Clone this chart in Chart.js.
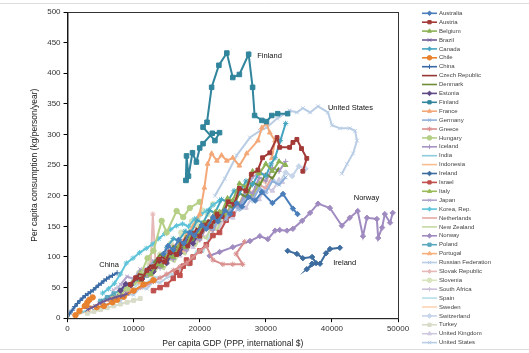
<!DOCTYPE html>
<html>
<head>
<meta charset="utf-8">
<script src="https://cdn.jsdelivr.net/npm/chart.js@4/dist/chart.umd.min.js"></script>
<style>
  html, body { margin: 0; padding: 0; background: #fff; }
  #wrap { width: 529px; height: 353px; }
</style>
</head>
<body>
<div id="wrap"><canvas id="c" width="529" height="353"></canvas></div>
<script>
// [GDP per capita (PPP, int. $), consumption (kg/person/year)]
const countries = ['Australia', 'Austria', 'Belgium', 'Brazil', 'Canada', 'Chile', 'China',
  'Czech Republic', 'Denmark', 'Estonia', 'Finland', 'France', 'Germany', 'Greece', 'Hungary',
  'Iceland', 'India', 'Indonesia', 'Ireland', 'Israel', 'Italy', 'Japan', 'Korea, Rep.',
  'Netherlands', 'New Zealand', 'Norway', 'Poland', 'Portugal', 'Russian Federation',
  'Slovak Republic', 'Slovenia', 'South Africa', 'Spain', 'Sweden', 'Switzerland', 'Turkey',
  'United Kingdom', 'United States'];

const australia = [[14500,105],[15200,118],[16000,112],[16800,128],[17600,122],[18500,140],[19200,135],[20300,152],[21000,146],[22000,165],[22800,158],[23800,176],[24600,170],[25600,188],[26400,182],[27400,198],[28400,192],[29400,206],[31000,188],[32600,203],[34100,179],[34800,170]];
const austria = [[9500,55],[10300,66],[11200,64],[12000,78],[13000,84],[13800,96],[14700,92],[15500,108],[16500,104],[17300,122],[18200,118],[19000,138],[20000,134],[20800,152],[21700,150],[22600,170],[23400,166],[24300,190],[25200,186],[26000,212],[27000,208],[27800,235],[28800,242],[29500,262],[30600,270],[31700,295],[32100,279],[33600,279],[34100,287],[34700,292],[35400,277],[36200,261],[35600,240]];
const belgium = [[11000,62],[11800,74],[12600,72],[13500,88],[14300,86],[15200,102],[16000,100],[17000,120],[17800,116],[18800,138],[19600,134],[20600,156],[21400,152],[22400,174],[23200,170],[24200,196],[25000,192],[26000,220],[27000,214],[28000,240],[29000,236],[30000,252],[31000,240],[32000,256],[33000,250]];
const brazil = [[3000,14],[3600,17],[4200,20],[4800,24],[5400,27],[6000,30],[6600,32],[7200,34],[7800,36],[8400,37],[9000,40]];
const canada = [[15000,115],[16000,130],[16800,126],[17800,142],[18600,138],[19600,160],[20500,156],[21500,176],[22300,172],[23300,194],[24200,190],[25200,208],[26000,204],[27000,224],[28000,218],[29000,238],[30000,232],[30800,252],[31400,262],[32200,290],[33000,318]];
const chile = [[1200,5],[1800,12],[2600,20],[3300,30],[3800,34],[3000,26],[2800,20],[4400,18],[5500,20],[6800,26],[7500,30],[8500,35],[10000,45],[11500,55],[13000,62]];
const china = [[300,7],[700,13],[1100,19],[1500,24],[1900,29],[2300,33],[2700,37],[3100,40],[3500,43],[3900,46],[4300,50],[4700,54],[5100,57],[5500,61],[5900,64],[6300,67],[6800,70],[7500,74]];
const czech = [[10000,60],[10800,72],[11600,70],[12500,86],[13400,82],[14200,100],[15000,96],[16000,114],[16800,110],[17800,130],[18600,126],[19500,146],[20400,140],[21300,160],[22200,156],[23000,170]];
const denmark = [[13000,90],[14000,104],[15000,100],[16000,118],[17000,114],[18000,134],[19000,128],[20000,150],[21000,146],[22000,168],[23000,162],[24000,186],[25000,180],[26000,204],[27000,198],[28000,222],[29000,216],[30000,236],[31000,228],[32000,246]];
const estonia = [[8000,45],[8800,56],[9600,54],[10500,66],[11300,64],[12200,80],[13000,76],[14000,94],[15000,90],[16000,110],[17000,106],[18000,126],[19000,122],[20000,142],[21000,150]];
const finland = [[17900,225],[18000,265],[18300,232],[18900,270],[19500,255],[20000,278],[20500,285],[21900,302],[23000,303],[22300,290],[20500,312],[21100,320],[21800,377],[22900,413],[24100,433],[25000,393],[26000,398],[27400,431],[28000,377],[28300,331],[29400,323],[30100,321],[30900,331],[31800,334],[33300,334]];
const france = [[12000,75],[13000,82],[14000,90],[15000,100],[16000,110],[17000,120],[18000,135],[19000,150],[20000,170],[20700,213],[21200,252],[21800,269],[22600,257],[23300,266],[24100,257],[25000,262],[26000,249],[27100,269],[28800,290],[29400,311],[30100,318],[30600,303],[31400,290],[30900,261]];
const germany = [[12000,80],[13000,92],[14000,88],[15000,106],[16000,102],[17000,120],[18000,116],[19000,136],[20000,130],[21000,152],[22000,146],[23000,168],[24000,162],[25000,184],[26000,178],[27000,200],[28000,194],[29000,212],[30000,206],[31000,224],[32000,218],[33000,230]];
const greece = [[9000,40],[10000,45],[11000,50],[12000,55],[13000,60],[14000,66],[15000,72],[16000,78],[17000,84],[18000,90],[19000,100],[20000,110],[21000,118],[22000,95],[23500,88],[25000,88],[26500,88],[25500,105],[26800,125]];
const hungary = [[7000,32],[8000,40],[9000,48],[10000,58],[11000,70],[12100,98],[13000,110],[14240,159],[15000,140],[16500,175],[17500,165],[18500,180],[20000,190]];
const iceland = [[12000,70],[13000,86],[14000,82],[15000,100],[16000,96],[17000,116],[18000,110],[19000,132],[20000,128],[21000,150],[22000,144],[23000,168],[24000,162],[25000,188],[26000,182],[27000,210],[28000,204],[29000,230],[30000,224],[31000,246],[32000,240],[33000,256]];
const india = [[800,3],[1200,5],[1600,7],[2000,9],[2500,11],[3000,13]];
const indonesia = [[1000,3],[1500,6],[2000,8],[2500,10],[3000,12],[3500,13]];
const ireland = [[33300,110],[34700,105],[35600,98],[37000,100],[37600,90],[36200,80],[37000,89],[38200,89],[39100,106],[39700,113],[41200,115]];
const israel = [[13000,45],[14000,50],[15000,55],[16000,65],[16500,75],[17000,70],[17500,85],[18000,95],[18500,90],[19000,100],[20000,110],[21000,120],[22000,135],[23000,140],[24000,160],[25000,170]];
const italy = [[10000,60],[11000,74],[12000,70],[13000,88],[14000,84],[15000,104],[16000,98],[17000,120],[18000,114],[19000,138],[20000,132],[21000,156],[22000,150],[23000,174],[24000,168],[25000,192],[26000,186],[27000,208],[28000,202],[29000,220]];
const japan = [[8000,55],[9000,68],[10000,64],[11000,80],[12000,76],[13000,94],[14000,90],[15000,110],[16000,104],[17000,126],[18000,120],[19000,142],[20000,136],[21000,158],[22000,152],[23000,174],[24000,168],[25000,190],[26000,184],[27000,208],[28000,230],[29000,238],[30500,232]];
const korea = [[5300,41],[6200,48],[7100,57],[8000,72],[8900,90],[9900,98],[10900,107],[11900,114],[12900,121],[13800,130],[14700,138],[15600,145],[16500,151],[17400,154],[18300,150],[19200,162],[20200,170],[21000,175],[22000,185],[23000,192]];
const netherlands = [[12000,72],[13000,88],[14000,84],[15000,102],[16000,96],[17000,116],[18000,110],[19000,132],[20000,126],[21000,148],[22000,142],[23000,166],[24000,160],[25000,184],[26000,178],[27000,202],[28000,196],[29000,218],[30000,212],[31000,232]];
const newZealand = [[13000,72],[13800,84],[14600,80],[15400,96],[16200,92],[17000,108],[17800,104],[18600,122],[19400,118],[20200,136],[21000,130],[21800,150],[22600,144],[23400,164],[24000,160]];
const norway = [[21500,102],[23000,108],[25000,116],[27600,126],[29100,134],[30300,129],[31400,143],[32100,144],[33200,143],[34100,146],[35500,159],[36700,172],[37900,187],[39700,180],[41500,151],[42700,164],[43900,175],[44700,134],[45300,164],[46800,162],[47000,131],[47600,148],[48000,170],[48800,156],[49200,172]];
const poland = [[5000,28],[6000,34],[7000,40],[8000,46],[9000,52],[10000,58],[11000,64],[12000,70],[13000,78],[14000,86]];
const portugal = [[6000,30],[7000,38],[7800,36],[8600,48],[9400,46],[10200,60],[11000,58],[11800,74],[12600,70],[13400,88],[14200,84],[15000,102],[15800,98],[16600,114],[17400,110],[18000,120]];
const russia = [[6000,22],[7000,30],[8000,28],[9000,40],[10000,38],[11000,50],[12000,48],[13000,60],[14000,58],[15000,66],[16500,72]];
const slovak = [[9000,55],[10000,62],[11000,70],[12000,78],[12600,90],[12900,170],[13300,92],[14000,98],[15000,108],[16000,118],[17000,126],[18000,132]];
const slovenia = [[10000,60],[10800,74],[11600,70],[12400,88],[13200,84],[14000,104],[14800,100],[15600,122],[16400,116],[17200,140],[18000,134],[18800,158],[19600,152],[20400,176],[21200,170],[22000,186]];
const southAfrica = [[6800,45],[7500,50],[8200,55],[9000,53],[9400,48],[8600,44],[7900,42],[8700,46],[9500,50]];
const spain = [[8000,40],[9000,50],[10000,48],[11000,60],[12000,58],[13000,68],[14000,66],[15500,72],[16500,72],[17500,88],[18500,86],[19500,110],[20500,108],[21500,134],[22500,150],[23500,166],[24500,178],[25500,196],[26500,213]];
const sweden = [[14000,98],[15000,112],[16000,106],[17000,126],[18000,120],[19000,142],[20000,136],[21000,158],[22000,152],[23000,176],[24000,170],[25000,194],[26000,188],[27000,212],[28000,206],[29000,226],[30000,220],[30500,232]];
const switzerland = [[20000,140],[21000,156],[22000,150],[23000,170],[24000,164],[25000,184],[26000,178],[27000,198],[28000,192],[29000,212],[30000,206],[31000,226],[32000,220],[33000,238],[34000,232],[35000,248],[36000,244]];
const turkey = [[3000,8],[4000,11],[5000,14],[6000,17],[7000,20],[8000,23],[9000,26],[10000,29],[11000,32]];
const uk = [[13000,80],[14000,94],[15000,90],[16000,108],[17000,102],[18000,122],[19000,116],[20000,138],[21000,132],[22000,154],[23000,148],[24000,170],[25000,164],[26000,186],[27000,180],[28000,200],[29000,194],[30000,214],[31000,208],[32000,226],[32500,222]];
const us = [[22300,200],[23800,228],[25600,266],[27600,295],[29100,306],[30100,311],[31700,326],[33600,339],[34700,336],[35600,343],[36700,336],[37900,346],[39400,336],[40000,315],[41200,310],[42700,310],[43500,306],[43800,290],[43200,269],[42300,252],[41500,236]];

const series = [australia, austria, belgium, brazil, canada, chile, china, czech, denmark, estonia,
  finland, france, germany, greece, hungary, iceland, india, indonesia, ireland, israel, italy,
  japan, korea, netherlands, newZealand, norway, poland, portugal, russia, slovak, slovenia,
  southAfrica, spain, sweden, switzerland, turkey, uk, us];

const xTicks = [0, 10000, 20000, 30000, 40000, 50000];
const yTicks = [0, 50, 100, 150, 200, 250, 300, 350, 400, 450, 500];

// text labels placed next to highlighted countries: [text, x, y]
const callouts = [['Finland', 28700, 429], ['United States', 39400, 344], ['Norway', 43300, 197],
  ['Ireland', 40200, 90], ['China', 4800, 87]];

const colors = ['#4A7EBB', '#A33A37', '#8DB255', '#6F5A96', '#45A5C0', '#E8822E', '#3A6AA5',
  '#943634', '#6E8C38', '#5F4A87', '#31859C', '#F4A878', '#8EB0DA', '#D98F8D', '#B5CF86',
  '#A794C4', '#8DCCDD', '#F8BD8E', '#3D6C9E', '#C0504D', '#9BBB59', '#B0A3CC', '#5EC3D8',
  '#E6A8A0', '#C4D9A0', '#A08BC0', '#5BA9BF', '#F7B07C', '#B8CCE4', '#E6B9B8', '#D7E4BD',
  '#CCC0DA', '#B7DEE8', '#FBD5B5', '#C6D5EA', '#D8DCC8', '#D0C8E0', '#B9CDE5'];
const markers = ['rectRot', 'rect', 'triangle', 'crossRot', 'star', 'circle', 'cross', false, false,
  'rectRot', 'rect', 'triangle', 'crossRot', 'star', 'circle', 'cross', false, false,
  'rectRot', 'rect', 'triangle', 'crossRot', 'star', false, false,
  'rectRot', 'rect', 'triangle', 'crossRot', 'star', 'circle', 'cross', false, false,
  'rectRot', 'rect', 'triangle', 'crossRot'];

const datasets = countries.map((name, i) => ({
  label: name,
  data: series[i].map(p => ({ x: p[0], y: p[1] })),
  showLine: true,
  borderColor: colors[i],
  backgroundColor: colors[i],
  borderWidth: 2,
  pointStyle: markers[i] || 'circle',
  pointRadius: markers[i] ? (i === 10 || i === 19 ? 3.2 : 2.7) : 0,
  pointBorderWidth: 1,
  pointHoverRadius: 0,
  tension: 0
}));

const extras = {
  id: 'extras',
  afterDatasetsDraw(chart) {
    const { ctx, chartArea: a, scales } = chart;
    ctx.save();
    // box round the plot area
    ctx.strokeStyle = '#333';
    ctx.lineWidth = 1;
    ctx.strokeRect(a.left + 0.5, a.top + 0.5, a.right - a.left, a.bottom - a.top);
    // country labels
    ctx.fillStyle = '#111';
    ctx.font = '7.5px "Liberation Sans", Arial, sans-serif';
    ctx.textBaseline = 'middle';
    callouts.forEach(([t, x, y]) => ctx.fillText(t, scales.x.getPixelForValue(x), scales.y.getPixelForValue(y)));
    // legend
    ctx.font = '6px "Liberation Sans", Arial, sans-serif';
    chart.data.datasets.forEach((ds, i) => {
      const y = 13.3 + i * 8.9;
      ctx.strokeStyle = ds.borderColor;
      ctx.fillStyle = ds.borderColor;
      ctx.lineWidth = 1.6;
      ctx.beginPath();
      ctx.moveTo(422, y);
      ctx.lineTo(437, y);
      ctx.stroke();
      if (markers[i]) {
        ctx.lineWidth = 1;
        Chart.helpers.drawPoint(ctx, { pointStyle: markers[i], radius: 2.3, rotation: 0, borderWidth: 1 }, 429.5, y);
      }
      ctx.fillStyle = '#444';
      ctx.fillText(ds.label, 439, y);
    });
    // faint frame lines
    ctx.strokeStyle = '#DDD';
    ctx.beginPath();
    ctx.moveTo(0, 3.5); ctx.lineTo(529, 3.5);
    ctx.moveTo(0, 349.5); ctx.lineTo(529, 349.5);
    ctx.stroke();
    ctx.restore();
  }
};

new Chart(document.getElementById('c').getContext('2d'), {
  type: 'scatter',
  data: { datasets },
  options: {
    responsive: false,
    animation: false,
    layout: { padding: { left: 30, right: 131, top: 12, bottom: 4 } },
    plugins: { legend: { display: false }, tooltip: { enabled: false } },
    scales: {
      x: {
        type: 'linear', min: 0, max: 50000,
        afterBuildTicks: s => { s.ticks = xTicks.map(v => ({ value: v })); },
        ticks: { color: '#333', font: { size: 8, family: '"Liberation Sans", Arial, sans-serif' }, padding: 2, maxRotation: 0,
          callback: v => String(v) },
        grid: { drawOnChartArea: false, tickLength: 4, color: '#000' },
        border: { color: '#000' },
        title: { display: true, text: 'Per capita GDP (PPP, international $)', color: '#222', padding: { top: 3, bottom: 0 },
          font: { size: 8.5, family: '"Liberation Sans", Arial, sans-serif' } }
      },
      y: {
        min: 0, max: 500,
        afterBuildTicks: s => { s.ticks = yTicks.map(v => ({ value: v })); },
        ticks: { color: '#333', font: { size: 8, family: '"Liberation Sans", Arial, sans-serif' }, padding: 3,
          callback: v => String(v) },
        grid: { drawOnChartArea: false, tickLength: 4, color: '#000' },
        border: { color: '#000' },
        title: { display: true, text: 'Per capita consumption (kg/person/year)', color: '#222', padding: { top: 0, bottom: 4 },
          font: { size: 8.5, family: '"Liberation Sans", Arial, sans-serif' } }
      }
    }
  },
  plugins: [extras]
});
</script>
</body>
</html>
